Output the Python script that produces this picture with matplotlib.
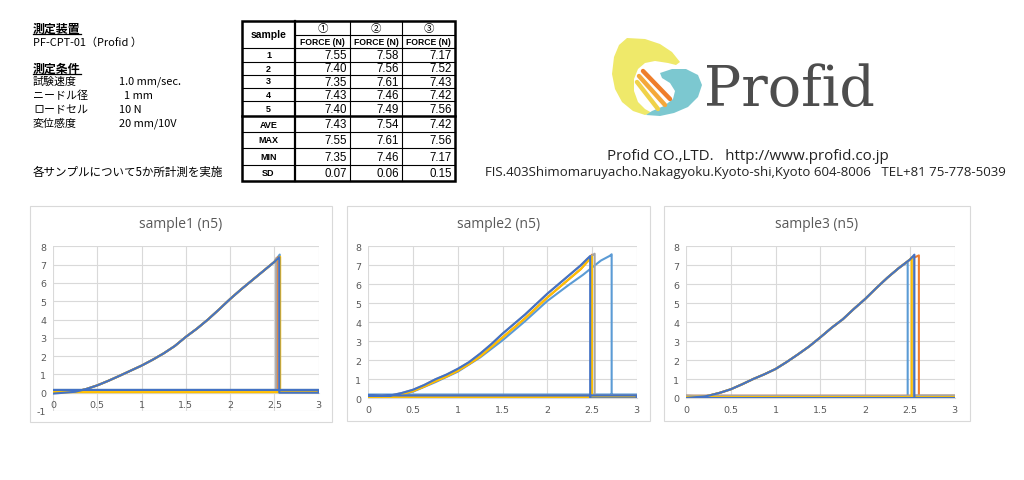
import numpy as np
import matplotlib.pyplot as plt
from matplotlib.patches import Rectangle, Polygon

JP = ['Noto Sans CJK JP', 'DejaVu Sans']
plt.rcParams['font.family'] = JP

# ---- table data ----
ROW_LABELS = ['1', '2', '3', '4', '5', 'AVE', 'MAX', 'MIN', 'SD']
COL_LABELS = ['①', '②', '③']
FORCE = [
    [7.55, 7.58, 7.17],
    [7.40, 7.56, 7.52],
    [7.35, 7.61, 7.43],
    [7.43, 7.46, 7.42],
    [7.40, 7.49, 7.56],
    [7.43, 7.54, 7.42],
    [7.55, 7.61, 7.56],
    [7.35, 7.46, 7.17],
    [0.07, 0.06, 0.15],
]

# ---- conditions text ----
COND_NAMES = ['試験速度', 'ニードル径', 'ロードセル', '変位感度']
COND_VALUES = ['1.0 mm/sec.', '  1 mm', '10 N', '20 mm/10V']

# ---- curves (displacement mm, force N) ----
COLORS = ['#5B9BD5', '#ED7D31', '#A5A5A5', '#FFC000', '#4472C4']
XTICK_LABELS = ['0', '0.5', '1', '1.5', '2', '2.5', '3']

C1_X = [0.25, 0.375, 0.5, 0.625, 0.75, 0.875, 1.0, 1.125, 1.25, 1.375, 1.5,
        1.625, 1.75, 1.875, 2.0, 2.125, 2.25, 2.375, 2.5]
C1_Y = [0.05, 0.2, 0.4, 0.65, 0.92, 1.2, 1.48, 1.8, 2.15, 2.55, 3.05,
        3.5, 4.0, 4.55, 5.12, 5.65, 6.15, 6.65, 7.15]

C2A_X = [0.15, 0.25, 0.375, 0.5, 0.625, 0.75, 0.875, 1.0, 1.125, 1.25, 1.375,
         1.5, 1.625, 1.75, 1.875, 2.0, 2.125, 2.25, 2.375, 2.45]
C2A_Y = [0.12, 0.15, 0.28, 0.45, 0.7, 1.0, 1.25, 1.55, 1.9, 2.35, 2.85,
         3.4, 3.9, 4.4, 4.95, 5.5, 6.0, 6.5, 7.0, 7.35]
C2B_X = [0.2, 0.25, 0.375, 0.5, 0.625, 0.75, 0.875, 1.0, 1.125, 1.25, 1.375,
         1.5, 1.625, 1.75, 1.875, 2.0, 2.125, 2.25, 2.375, 2.45]
C2B_Y = [0.05, 0.1, 0.22, 0.38, 0.62, 0.9, 1.15, 1.45, 1.8, 2.2, 2.7,
         3.2, 3.7, 4.2, 4.75, 5.3, 5.8, 6.3, 6.8, 7.2]
C2C_X = [0.2, 0.25, 0.5, 0.75, 1.0, 1.25, 1.5, 1.75, 2.0, 2.25, 2.4, 2.5,
         2.6, 2.7]
C2C_Y = [0.1, 0.12, 0.35, 0.85, 1.4, 2.15, 3.05, 4.05, 5.12, 6.0, 6.5, 6.88,
         7.25, 7.5]

C3_X = [0.2, 0.25, 0.375, 0.5, 0.625, 0.75, 0.875, 1.0, 1.125, 1.25, 1.375,
        1.5, 1.625, 1.75, 1.875, 2.0, 2.125, 2.25, 2.375, 2.5]
C3_Y = [0.08, 0.12, 0.27, 0.46, 0.72, 1.0, 1.25, 1.53, 1.9, 2.3, 2.72,
        3.2, 3.7, 4.15, 4.7, 5.22, 5.8, 6.35, 6.85, 7.3]

# per series: break displacement, start / end / return baseline force
BREAK = [[2.56, 2.535, 2.52, 2.565, 2.555],
         [2.72, 2.50, 2.53, 2.50, 2.48],
         [2.475, 2.60, 2.54, 2.52, 2.55]]
START = [[0.1, 0.05, 0.1, 0.0, -0.05],
         [0.1, 0.05, 0.1, 0.05, 0.15],
         [0.05, 0.1, 0.12, 0.05, 0.0]]
END = [[0.05, 0.05, 0.1, 0.05, 0.0],
       [0.1, 0.05, 0.1, 0.05, 0.0],
       [0.08, 0.1, 0.12, 0.05, 0.0]]
RET = [[0.15, 0.12, 0.15, 0.03, 0.15],
       [0.2, 0.12, 0.15, 0.05, 0.15],
       [0.08, 0.12, 0.12, 0.05, 0.0]]

CURVES = [
    [(C1_X, C1_Y)] * 5,
    [(C2C_X, C2C_Y), (C2B_X, C2B_Y), (C2A_X, C2A_Y), (C2B_X, C2B_Y), (C2A_X, C2A_Y)],
    [(C3_X, C3_Y)] * 5,
]
TITLES = ['sample1 (n5)', 'sample2 (n5)', 'sample3 (n5)']
YMIN = [-1, 0, 0]

fig = plt.figure(figsize=(10.24, 4.81), dpi=100)
bg = fig.add_axes([0, 0, 1, 1])
bg.set_xlim(0, 1024)
bg.set_ylim(481, 0)
bg.axis('off')

# ---- left text block ----
tk = dict(color='black', va='center', ha='left', family=JP)
bg.text(33, 29, '測定装置', fontsize=8.6, fontweight='bold', **tk)
bg.plot([33, 81], [34.5, 34.5], color='black', lw=0.9)
bg.text(33, 43, 'PF-CPT-01（Profid ）', fontsize=7.9, **tk)
bg.text(33, 69, '測定条件', fontsize=8.6, fontweight='bold', **tk)
bg.plot([33, 81], [74.5, 74.5], color='black', lw=0.9)
for i, (n, v) in enumerate(zip(COND_NAMES, COND_VALUES)):
    y = 82 + i * 14
    bg.text(33, y, n, fontsize=7.9, **tk)
    bg.text(119, y, v, fontsize=7.9, **tk)
bg.text(33, 172, '各サンプルについて5か所計測を実施', fontsize=8.3, **tk)

# ---- table ----
col_x = [242, 295, 350, 402, 455]
row_y = [22, 49, 62.5, 75.5, 88.5, 102, 117, 133, 149, 165.5, 182]
tf = ['Liberation Sans', 'DejaVu Sans']
for y in row_y[1:-1]:
    lw = 1.8 if y == 117 else 0.8
    bg.plot([col_x[0], col_x[-1]], [y, y], color='black', lw=lw)
bg.plot([col_x[1], col_x[-1]], [36, 36], color='black', lw=0.8)
for x in col_x[2:-1]:
    bg.plot([x, x], [row_y[0], row_y[-1]], color='black', lw=0.8)
bg.plot([col_x[1], col_x[1]], [row_y[0], row_y[-1]], color='black', lw=1.6)
bg.add_patch(Rectangle((col_x[0], row_y[0]), col_x[-1] - col_x[0],
                       row_y[-1] - row_y[0], fill=False, ec='black', lw=1.8))
bg.text((col_x[0] + col_x[1]) / 2, 35.5, 'sample', fontsize=7.5,
        fontweight='bold', ha='center', va='center', family=tf)
for j, c in enumerate(COL_LABELS):
    cx = (col_x[j + 1] + col_x[j + 2]) / 2
    bg.text(cx, 29, c, fontsize=7.5, ha='center', va='center', family=JP)
    bg.text(cx, 42.5, 'FORCE (N)', fontsize=6.2, fontweight='bold',
            ha='center', va='center', family=tf)
for i, lab in enumerate(ROW_LABELS):
    cy = (row_y[i + 1] + row_y[i + 2]) / 2
    bg.text((col_x[0] + col_x[1]) / 2, cy, lab, fontsize=6.5,
            fontweight='bold', ha='center', va='center', family=tf)
    for j in range(3):
        bg.text(col_x[j + 2] - 3, cy + 0.5, f'{FORCE[i][j]:.2f}', fontsize=8.3,
                ha='right', va='center', family=tf)

# ---- logo ----
yellow = [(627, 39), (645, 40), (660, 45), (672, 53), (680, 63), (676, 66),
          (668, 64), (655, 62), (645, 64), (638, 70), (634, 80), (634, 92),
          (638, 103), (645, 110), (652, 114), (645, 116), (633, 112),
          (622, 103), (615, 90), (612, 75), (614, 58), (619, 46)]
cyan = [(660, 74), (672, 70), (686, 70), (698, 76), (702, 86), (698, 98),
        (688, 108), (674, 114), (660, 117), (646, 116), (652, 112), (664, 107),
        (673, 100), (675, 92), (670, 84), (662, 79)]
bg.add_patch(Polygon(yellow, closed=True, fc='#efe96a', ec='none'))
bg.add_patch(Polygon(cyan, closed=True, fc='#7cc8d0', ec='none'))
for (x0, y0, x1, y1), col in zip([(643, 72, 670, 100), (639, 77, 665, 106),
                                  (637, 83, 658, 110)],
                                 ['#ee7d2a', '#f4a83a', '#f0d24a']):
    bg.plot([x0, x1], [y0, y1], color=col, lw=3.2, solid_capstyle='round')
bg.text(704, 106, 'Profid', fontsize=40, color='#4d4d4d', ha='left',
        va='baseline', family=['DejaVu Serif'])
bg.text(748, 157, 'Profid CO.,LTD.   http://www.profid.co.jp', fontsize=10.9,
        color='#222222', ha='center', va='center', family=['Open Sans'])
bg.text(745, 173, 'FIS.403Shimomaruyacho.Nakagyoku.Kyoto-shi,Kyoto 604-8006   '
        'TEL+81 75-778-5039', fontsize=9.5, color='#222222', ha='center',
        va='center', family=['Open Sans'])

# ---- charts ----
boxes = [(30, 207, 332, 423), (347, 207, 650, 422), (664, 207, 970, 422)]
axpos = [(53, 318.7, 247.3, 412), (368.3, 636.7, 247.3, 399.3),
         (686, 954.7, 247.3, 399)]
for k in range(3):
    x0, y0, x1, y1 = boxes[k]
    bg.add_patch(Rectangle((x0, y0), x1 - x0, y1 - y0, fill=False,
                           ec='#d9d9d9', lw=0.8))
    bg.text((x0 + x1) / 2, 225, TITLES[k], fontsize=10, color='#595959',
            ha='center', va='center', family=['Open Sans'])
    l, r, t, b = axpos[k]
    ax = fig.add_axes([l / 1024, (481 - b) / 481, (r - l) / 1024, (b - t) / 481])
    ax.set_xlim(0, 3)
    ax.set_ylim(YMIN[k], 8)
    ax.set_xticks(np.arange(0, 3.01, 0.5))
    ax.set_xticklabels(XTICK_LABELS)
    yt = list(range(YMIN[k], 9))
    ax.set_yticks(yt)
    ax.set_yticklabels([str(v) for v in yt])
    ax.grid(color='#d9d9d9', lw=0.8)
    ax.set_axisbelow(True)
    ax.patch.set_visible(False)
    for s in ['top', 'right', 'left']:
        ax.spines[s].set_visible(False)
    ax.spines['bottom'].set_position(('data', 0))
    ax.spines['bottom'].set_color('#d9d9d9')
    ax.tick_params(length=0, labelsize=6.8, labelcolor='#595959', pad=5)
    for lab in ax.get_xticklabels() + ax.get_yticklabels():
        lab.set_family(['DejaVu Sans'])
    for i in range(5):
        cx, cy = CURVES[k][i]
        brk = BREAK[k][i]
        px = [0] + [x for x in cx if x < brk] + [brk, brk, 3, 3, 0]
        py = ([START[k][i]] + [y for x, y in zip(cx, cy) if x < brk] +
              [FORCE[i][k], END[k][i], END[k][i], RET[k][i], RET[k][i]])
        ax.plot(px, py, color=COLORS[i], lw=1.5, zorder=3 + i)

fig.savefig('out.png', dpi=100)
